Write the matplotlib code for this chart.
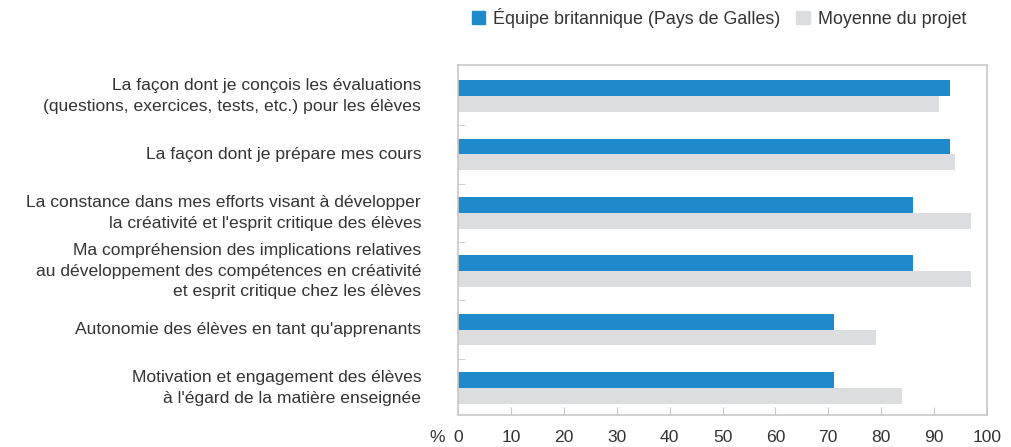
import numpy as np
import matplotlib.pyplot as plt
from matplotlib.patches import Patch

categories = [
    "La façon dont je conçois les évaluations\n(questions, exercices, tests, etc.) pour les élèves",
    "La façon dont je prépare mes cours",
    "La constance dans mes efforts visant à développer\nla créativité et l'esprit critique des élèves",
    "Ma compréhension des implications relatives\nau développement des compétences en créativité\net esprit critique chez les élèves",
    "Autonomie des élèves en tant qu'apprenants",
    "Motivation et engagement des élèves\nà l'égard de la matière enseignée",
]
wales = [93, 93, 86, 86, 71, 71]
project = [91, 94, 97, 97, 79, 84]
series_names = ["Équipe britannique (Pays de Galles)", "Moyenne du projet"]

blue = "#1E8ACB"
grey = "#DCDDDF"
spine = "#C8C8C8"
txt = "#333333"
fs = 12.6

plt.rcParams['font.family'] = ['Liberation Sans', 'DejaVu Sans']

fig = plt.figure(figsize=(10.12, 4.47), dpi=100)
ax = fig.add_axes([458 / 1012, 1 - 415 / 447, 529 / 1012, 350 / 447])

y = np.arange(len(categories))
h = 0.27
ax.barh(y - h / 2, wales, height=h, color=blue)
ax.barh(y + h / 2, project, height=h, color=grey)

ax.set_xlim(0, 100)
ax.set_ylim(len(categories) - 0.54, -0.53)
ax.set_xticks(np.arange(0, 101, 10))
ax.set_yticks(y)
ax.set_yticklabels(categories, fontsize=fs, color=txt, linespacing=1.45, va='center')
ax.set_yticks(np.arange(0.5, len(categories) - 1, 1), minor=True)
ax.tick_params(axis='y', which='major', length=0, pad=26.5)
ax.tick_params(axis='y', which='minor', direction='in', length=5, color=spine)
ax.tick_params(axis='x', direction='in', length=6, color=spine, labelsize=fs,
               labelcolor=txt, pad=11)
for s in ax.spines.values():
    s.set_color(spine)
    s.set_linewidth(1.2)

fig.text(437 / 1012, 1 - 437 / 447, "%", fontsize=fs, color=txt, ha='center', va='center')

handles = [Patch(color=blue), Patch(color=grey)]
fig.legend(handles, series_names, loc='center', bbox_to_anchor=(719 / 1012, 1 - 18 / 447),
           ncol=2, frameon=False, fontsize=12.9, labelcolor=txt, handlelength=0.75,
           handleheight=0.75, handletextpad=0.45, columnspacing=0.9)

fig.savefig("out.png", dpi=100)
